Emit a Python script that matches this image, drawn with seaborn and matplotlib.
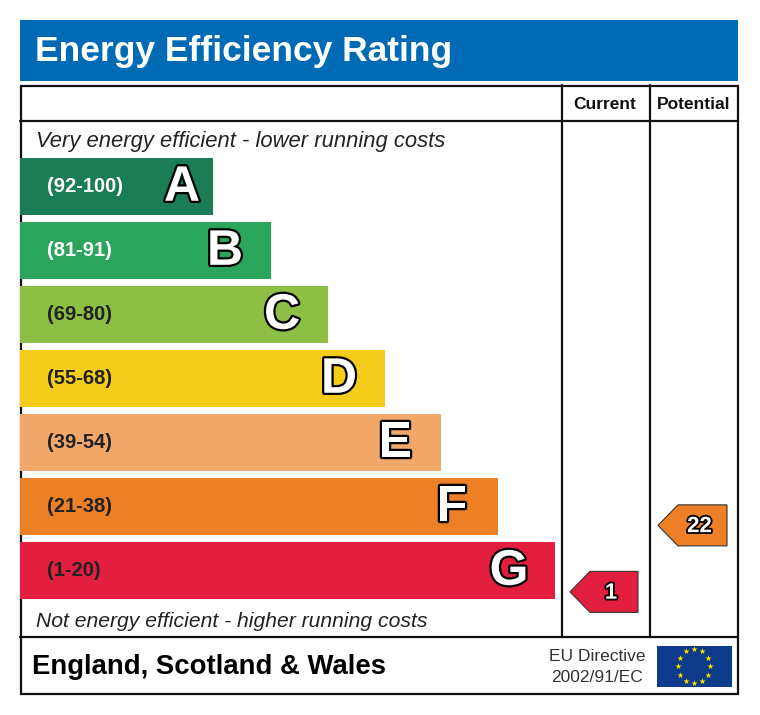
import numpy as np
import pandas as pd
import matplotlib
matplotlib.use("Agg")
import matplotlib.pyplot as plt
import matplotlib.patheffects as pe
from matplotlib.patches import Rectangle, Polygon
import seaborn as sns

# ---- data ----
bands = ["A", "B", "C", "D", "E", "F", "G"]
ranges = ["(92-100)", "(81-91)", "(69-80)", "(55-68)", "(39-54)", "(21-38)", "(1-20)"]
range_lo = [92, 81, 69, 55, 39, 21, 1]
range_hi = [100, 91, 80, 68, 54, 38, 20]
bar_lengths = [193, 251, 308, 365, 421, 478, 535]
band_colors = ["#1b7d55", "#2ba55b", "#8cbf43", "#f4cd1c", "#f2a76b", "#ed7f27", "#e21f3f"]
label_colors = ["white", "white", "#222222", "#222222", "#222222", "#222222", "#222222"]
current_rating = 1
potential_rating = 22
title = "Energy Efficiency Rating"
col_headers = ["Current", "Potential"]
top_note = "Very energy efficient - lower running costs"
bottom_note = "Not energy efficient - higher running costs"
region = "England, Scotland & Wales"
directive = "EU Directive\n2002/91/EC"

W, H = 760, 715
sns.set_theme(style="white")
plt.rcParams["font.family"] = ["Liberation Sans", "DejaVu Sans"]

fig = plt.figure(figsize=(W / 100, H / 100), dpi=100)
fig.patch.set_facecolor("white")

# background / frame axes in pixel coordinates
bg = fig.add_axes([0, 0, 1, 1])
bg.set_xlim(0, W)
bg.set_ylim(H, 0)
bg.axis("off")

# bars axes: x in pixels from the frame's left edge, y categorical
left_px, right_px = 20, 738
slot = 64
top_px = 186.5 - slot / 2
bot_px = top_px + slot * len(bands)
ax = fig.add_axes([left_px / W, 1 - bot_px / H, (right_px - left_px) / W, (bot_px - top_px) / H])
df = pd.DataFrame({"band": bands, "length": bar_lengths})
sns.barplot(data=df, y="band", x="length", hue="band", palette=band_colors,
            orient="h", width=57 / 64, legend=False, ax=ax, saturation=1,
            linewidth=0)
ax.set_xlim(0, right_px - left_px)
ax.set_ylim(len(bands) - 0.5, -0.5)
ax.axis("off")

stroke = [pe.Stroke(linewidth=3.2, foreground="black"), pe.Normal()]
for i, (b, r, L) in enumerate(zip(bands, ranges, bar_lengths)):
    ax.text(27, i, r, ha="left", va="center", fontsize=14.5,
            fontweight="bold", color=label_colors[i])
    off = 31 if L < 220 else 46
    ax.text(L - off, i + 0.02, b, ha="center", va="center", fontsize=36,
            fontweight="bold", color="white", path_effects=stroke)

# rating arrows
def band_index(v):
    for k, (lo, hi) in enumerate(zip(range_lo, range_hi)):
        if lo <= v <= hi:
            return k
    return len(bands) - 1

def arrow(v, x0, x1):
    k = band_index(v)
    lo, hi = range_lo[k], range_hi[k]
    frac = 0.5 + 0.75 * ((lo + hi) / 2 - v) / (hi - lo)
    hb = 57 / 64
    yc = k - hb / 2 + frac * hb
    h = 41 / 64
    tip = 20
    pts = [(x0, yc), (x0 + tip, yc - h / 2), (x1, yc - h / 2), (x1, yc + h / 2), (x0 + tip, yc + h / 2)]
    ax.add_patch(Polygon(pts, closed=True, facecolor=band_colors[k], edgecolor="#333333",
                         linewidth=0.8, zorder=3, clip_on=False))
    ax.text((x0 + tip + x1) / 2 - 3, yc + 0.02, str(v), ha="center", va="center", fontsize=16,
            fontweight="bold", color="white", path_effects=[pe.Stroke(linewidth=2.6, foreground="black"), pe.Normal()],
            zorder=4)

arrow(current_rating, 570 - left_px, 638 - left_px)
arrow(potential_rating, 658 - left_px, 727 - left_px)

# title banner
bg.add_patch(Rectangle((20, 20), 718, 61, facecolor="#006ab4", edgecolor="none"))
bg.text(35, 61, title, ha="left", va="baseline", fontsize=25.5, fontweight="bold", color="white")

# frame and grid lines
lw = 1.6
bg.add_patch(Rectangle((20.5, 85.5), 717, 608, facecolor="none", edgecolor="#111111", linewidth=lw, zorder=5))
bg.plot([20, 738], [121, 121], color="#111111", lw=lw, zorder=5)
bg.plot([20, 738], [637, 637], color="#111111", lw=lw, zorder=5)
bg.plot([562, 562], [85, 637], color="#111111", lw=lw, zorder=5)
bg.plot([650, 650], [85, 637], color="#111111", lw=lw, zorder=5)

bg.text(605, 109, col_headers[0], ha="center", va="baseline", fontsize=12.5, fontweight="bold", color="#111111")
bg.text(694, 109, col_headers[1], ha="center", va="baseline", fontsize=12.5, fontweight="bold", color="#111111")

bg.text(36, 147, top_note, ha="left", va="baseline", fontsize=15.8, style="italic", color="#222222")
bg.text(36, 627, bottom_note, ha="left", va="baseline", fontsize=15.2, style="italic", color="#222222")

bg.text(32, 674, region, ha="left", va="baseline", fontsize=19.8, fontweight="bold", color="black")
bg.text(597, 667, directive, ha="center", va="center", fontsize=12.5, color="#333333", linespacing=1.45)

# EU flag
bg.add_patch(Rectangle((657, 646), 75, 41, facecolor="#0d3a8a", edgecolor="none"))
ang = np.linspace(0, 2 * np.pi, 12, endpoint=False)
bg.scatter(694 + 17 * np.cos(ang) * 0.95, 666 + 17 * np.sin(ang), marker="*", s=22,
           color="#ffdd00", linewidths=0, zorder=6)

fig.savefig("out.png", dpi=100, facecolor="white")
